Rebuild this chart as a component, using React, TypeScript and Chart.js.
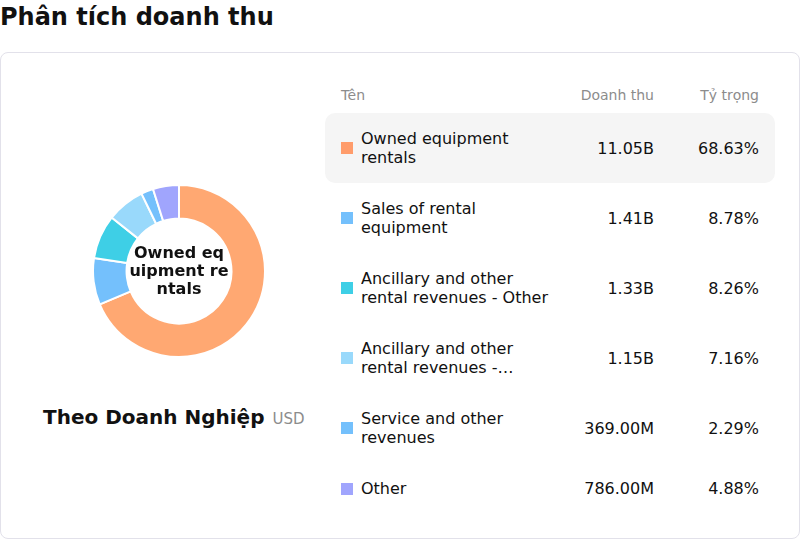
import React, { useEffect, useRef } from "react";
import { Chart, registerables } from "chart.js";

Chart.register(...registerables);

const categories = [
  "Owned equipment rentals",
  "Sales of rental equipment",
  "Ancillary and other rental revenues - Other",
  "Ancillary and other rental revenues - Delivery and pick-up",
  "Service and other revenues",
  "Other",
];
const revenues = [11.05e9, 1.41e9, 1.33e9, 1.15e9, 369.0e6, 786.0e6];
const shares = [68.63, 8.78, 8.26, 7.16, 2.29, 4.88];
const sliceColors = ["#FFA872", "#74C0FC", "#3ECFE6", "#99D9FB", "#74C0FC", "#A0A5FD"];
const swatchColors = ["#FF9C6B", "#74C0FC", "#3ECFE6", "#99D9FB", "#74C0FC", "#A0A5FD"];

const FONT = "'DejaVu Sans', sans-serif";

function fmtRevenue(v: number): string {
  if (v >= 1e9) return (v / 1e9).toFixed(2) + "B";
  return (v / 1e6).toFixed(2) + "M";
}

export default function App() {
  const canvasRef = useRef<HTMLCanvasElement | null>(null);

  useEffect(() => {
    document.body.style.margin = "0";
    const canvas = canvasRef.current;
    if (!canvas) return;
    const chart = new Chart(canvas, {
      type: "doughnut",
      data: {
        labels: categories,
        datasets: [
          {
            data: revenues,
            backgroundColor: sliceColors,
            borderColor: "#ffffff",
            borderWidth: 2,
            hoverOffset: 0,
          },
        ],
      },
      options: {
        responsive: false,
        animation: false,
        devicePixelRatio: 1,
        cutout: "61%",
        layout: { padding: 0 },
        plugins: {
          legend: { display: false },
          tooltip: { enabled: false },
        },
      },
    });
    return () => chart.destroy();
  }, []);

  return (
    <div style={{ position: "relative", width: 800, height: 539, fontFamily: FONT, color: "#111" }}>
      <div
        style={{
          position: "absolute",
          left: 0,
          top: 3,
          fontSize: 24,
          lineHeight: "28px",
          fontWeight: "bold",
          whiteSpace: "nowrap",
        }}
      >
        Phân tích doanh thu
      </div>
      <div
        style={{
          position: "absolute",
          left: 0,
          top: 52,
          width: 800,
          height: 487,
          boxSizing: "border-box",
          border: "1px solid #E2E1EA",
          borderRadius: 8,
          background: "#fff",
        }}
      />
      <canvas
        ref={canvasRef}
        width={174}
        height={174}
        style={{ position: "absolute", left: 92, top: 184, width: 174, height: 174 }}
      />
      <div
        style={{
          position: "absolute",
          left: 129,
          top: 244,
          width: 100,
          textAlign: "center",
          fontWeight: "bold",
          fontSize: 16,
          lineHeight: "18px",
          wordBreak: "break-all",
        }}
      >
        {categories[0]}
      </div>
      <div
        style={{
          position: "absolute",
          left: 43,
          top: 405,
          display: "flex",
          alignItems: "baseline",
          whiteSpace: "nowrap",
        }}
      >
        <span style={{ fontSize: 20, lineHeight: "24px", fontWeight: "bold" }}>Theo Doanh Nghiệp</span>
        <span style={{ fontSize: 15, color: "#8c8c8c", marginLeft: 8 }}>USD</span>
      </div>

      <div style={{ position: "absolute", left: 325, top: 80, width: 450 }}>
        <div
          style={{
            display: "flex",
            height: 33,
            boxSizing: "border-box",
            padding: "7px 16px 0 16px",
            fontSize: 14,
            lineHeight: "17px",
            color: "#8c8c8c",
          }}
        >
          <div style={{ width: 215 }}>Tên</div>
          <div style={{ flex: 1, textAlign: "right" }}>Doanh thu</div>
          <div style={{ width: 105, textAlign: "right" }}>Tỷ trọng</div>
        </div>
        {categories.map((name, i) => (
          <div
            key={name}
            style={{
              display: "flex",
              alignItems: "center",
              padding: "16px",
              fontSize: 16,
              lineHeight: "19px",
              background: i === 0 ? "#F5F5F5" : "transparent",
              borderRadius: 10,
            }}
          >
            <div style={{ width: 12, height: 12, background: swatchColors[i], marginRight: 8, flexShrink: 0 }} />
            <div
              style={{
                width: 195,
                display: "-webkit-box",
                WebkitLineClamp: 2,
                WebkitBoxOrient: "vertical",
                overflow: "hidden",
              } as React.CSSProperties}
            >
              {name}
            </div>
            <div style={{ flex: 1, textAlign: "right" }}>{fmtRevenue(revenues[i])}</div>
            <div style={{ width: 105, textAlign: "right" }}>{shares[i].toFixed(2)}%</div>
          </div>
        ))}
      </div>
    </div>
  );
}
